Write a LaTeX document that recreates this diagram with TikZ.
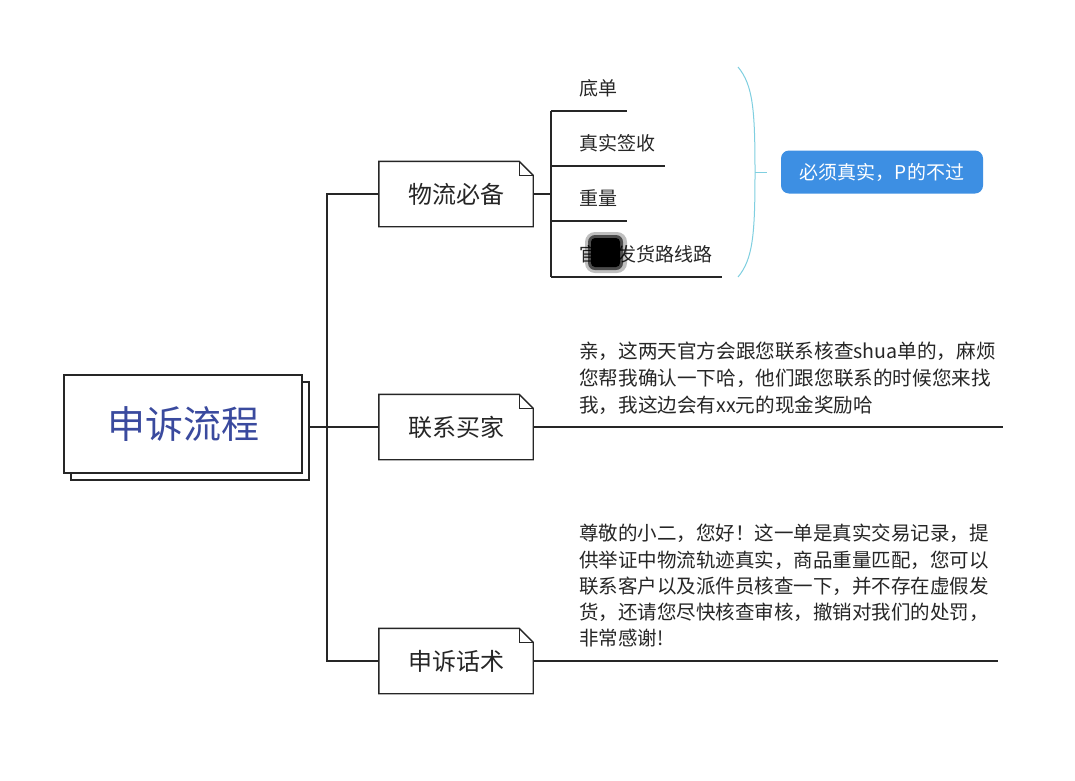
\documentclass[tikz,border=0pt]{standalone}
\usepackage{fontspec}
\setmainfont{Noto Sans CJK SC}
\definecolor{ink}{HTML}{262626}
\definecolor{titleblue}{HTML}{3A4A9E}
\definecolor{noteblue}{HTML}{3D8FE3}
\definecolor{bracecyan}{HTML}{7FCFE0}

\begin{document}
\begin{tikzpicture}[x=1pt, y=-1pt,
        line/.style={draw=ink, line width=1.4pt},
        topic/.style={draw=ink, line width=1.4pt, fill=white, minimum width=238pt, minimum height=98pt, font=\fontsize{38}{44}\selectfont, text=titleblue},
        branch/.style={minimum width=154pt, minimum height=65pt, font=\fontsize{24}{28}\selectfont, text=ink},
        leaf/.style={anchor=south west, inner sep=0pt, text height=20pt, text depth=15pt, font=\fontsize{19}{23}\selectfont, text=ink},
        para/.style={anchor=north west, align=left, inner sep=0pt, text=ink}
    ]
        \useasboundingbox[fill=white] (0,0) rectangle (1075,780);

        % main topic
        \node[topic] (shadow) at (190,431) {};
        \node[topic] (main) at (183,424) {申诉流程};

        \node[branch] (wuliu) at (456,194) {物流必备};
        \node[branch] (lianxi) at (456,427) {联系买家};
        \node[branch] (huashu) at (456,661) {申诉话术};

        \foreach \b in {wuliu,lianxi,huashu}{
            \draw[line] (\b.north west) -- ([xshift=-14pt]\b.north east) -- ([yshift=-14pt]\b.north east) -- (\b.south east) -- (\b.south west) -- cycle;
            \draw[ink, line width=0.6pt] ([xshift=-14pt]\b.north east) |- ([yshift=-14pt]\b.north east);% fold
        }

        \coordinate (fork) at (327,427);
        \draw[line] (shadow.east |- lianxi.west) -- (lianxi.west);
        \draw[line] (wuliu.west) -| (fork) |- (huashu.west);

        % items
        \node[leaf] (d1) at (551,111) {\hspace*{28pt}底单\hspace*{10pt}};
        \node[leaf] (d2) at (551,166) {\hspace*{28pt}真实签收\hspace*{10pt}};
        \node[leaf] (d3) at (551,221) {\hspace*{28pt}重量\hspace*{10pt}};
        \node[leaf] (d4) at (551,277) {\hspace*{28pt}官方发货路线路\hspace*{10pt}};
        \foreach \d in {d1,d2,d3,d4}
            \draw[line] (\d.south west) -- (\d.south east);
        \draw[line] (d1.south west) -- (d4.south west);
        \draw[line] (wuliu.east) -- (d1.south west |- wuliu.east);

        % smudge
        \fill[black, opacity=0.25, rounded corners=10pt] (585,232) rectangle (627,273);
        \fill[black, opacity=0.6, rounded corners=7pt] (588,235) rectangle (623,270);
        \fill[black, rounded corners=4pt] (591,238) rectangle (620,267);

        % brace and note
        \coordinate (tip) at (767,172);
        \draw[bracecyan, line width=1pt] (738,67) .. controls (753,85) and (755,110) .. (755,172) .. controls (755,234) and (753,259) .. (738,277);
        \draw[bracecyan, line width=1pt] (755,172) -- (tip);
        \node[fill=noteblue, rounded corners=8pt, minimum width=202pt, minimum height=43pt, text=white, font=\fontsize{19}{23}\selectfont] (note) at (882,172) {必须真实，P的不过};

        % texts
        \coordinate (end1) at (1003,427);
        \coordinate (end2) at (998,661);
        \draw[line] (lianxi.east) -- (end1);
        \draw[line] (huashu.east) -- (end2);
        \node[para, font=\fontsize{19.6}{27}\selectfont] (t1) at (579,342) {亲，这两天官方会跟您联系核查shua单的，麻烦\\您帮我确认一下哈，他们跟您联系的时候您来找\\我，我这边会有xx元的现金奖励哈};
        \node[para, font=\fontsize{19.5}{26.3}\selectfont] (t2) at (579,524) {尊敬的小二，您好！这一单是真实交易记录，提\\供举证中物流轨迹真实，商品重量匹配，您可以\\联系客户以及派件员核查一下，并不存在虚假发\\货，还请您尽快核查审核，撤销对我们的处罚，\\非常感谢!};
    \end{tikzpicture}
\end{document}
